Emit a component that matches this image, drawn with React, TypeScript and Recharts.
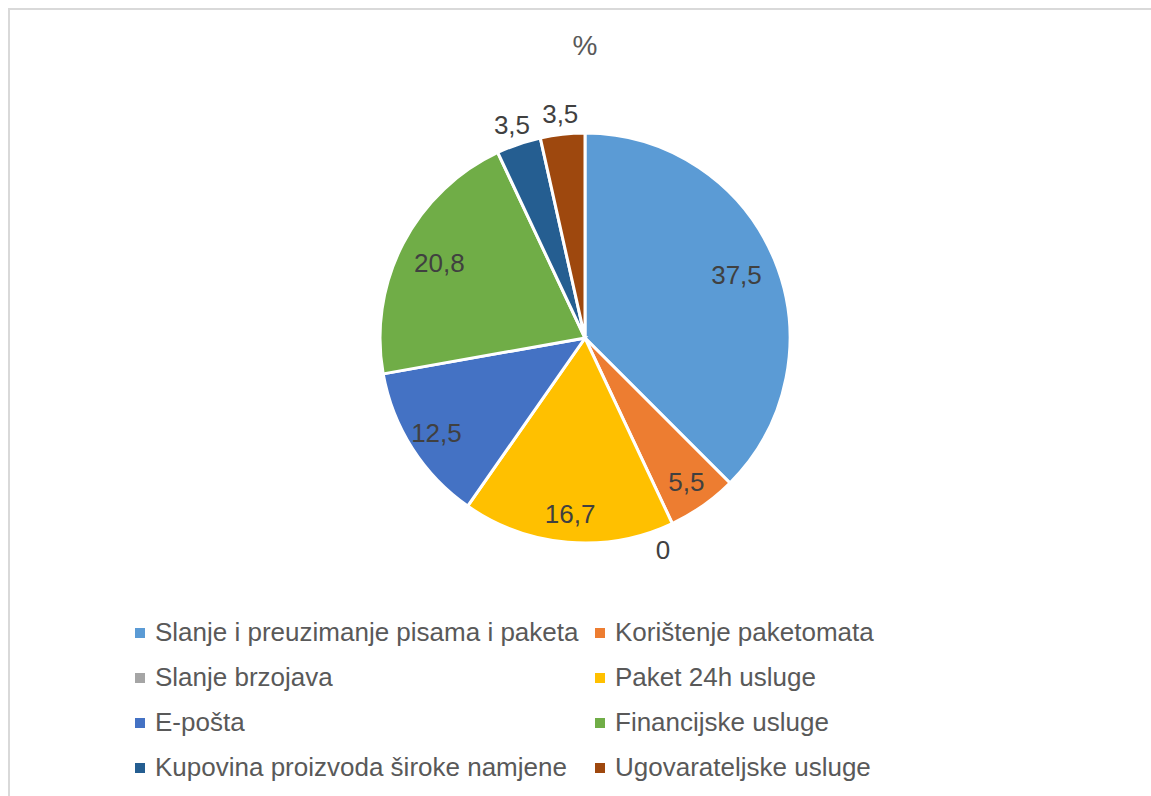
import React from 'react';
import { Legend, Pie, PieChart, Cell } from 'recharts';

const CATEGORIES = [
  'Slanje i preuzimanje pisama i paketa',
  'Korištenje paketomata',
  'Slanje brzojava',
  'Paket 24h usluge',
  'E-pošta',
  'Financijske usluge',
  'Kupovina proizvoda široke namjene',
  'Ugovarateljske usluge',
];

const VALUES = [37.5, 5.5, 0, 16.7, 12.5, 20.8, 3.5, 3.5];

const COLORS = [
  '#5B9BD5',
  '#ED7D31',
  '#A5A5A5',
  '#FFC000',
  '#4472C4',
  '#70AD47',
  '#255E91',
  '#9E480E',
];

const FONT = '"Liberation Sans", Arial, sans-serif';
const RADIAN = Math.PI / 180;

const fmt = (v: number) => String(v).replace('.', ',');

function renderLabel(props: any) {
  const { cx, cy, midAngle, outerRadius, value } = props;
  // excel "best fit": small slices outside, the rest inside
  let k = 0.8;
  if (value < 5) k = 1.1;
  else if (value < 20) k = 0.86;
  let angle = midAngle;
  if (value === 0) angle = midAngle - 5; // empty slice label sits a little further round
  const r = outerRadius * k;
  const x = cx + r * Math.cos(-angle * RADIAN);
  const y = cy + r * Math.sin(-angle * RADIAN);
  return (
    <text
      x={x}
      y={y}
      fill="#404040"
      fontSize={26}
      fontFamily={FONT}
      textAnchor="middle"
      dominantBaseline="central"
    >
      {fmt(value)}
    </text>
  );
}

function LegendGrid() {
  return (
    <div
      style={{
        display: 'grid',
        gridTemplateColumns: '460px 460px',
        fontFamily: FONT,
        fontSize: 26,
        color: '#595959',
      }}
    >
      {CATEGORIES.map((name, i) => (
        <div key={name} style={{ display: 'flex', alignItems: 'center', height: 45 }}>
          <span
            style={{
              width: 10,
              height: 10,
              background: COLORS[i],
              marginRight: 10,
              display: 'inline-block',
            }}
          />
          <span style={{ whiteSpace: 'nowrap' }}>{name}</span>
        </div>
      ))}
    </div>
  );
}

export default function App() {
  const rows = CATEGORIES.map((name, i) => ({ name, value: VALUES[i] }));

  return (
    <div
      style={{
        position: 'absolute',
        left: 8,
        top: 8,
        width: 1143,
        height: 788,
        boxSizing: 'border-box',
        borderTop: '2px solid #d9d9d9',
        borderLeft: '2px solid #d9d9d9',
        overflow: 'hidden',
      }}
    >
      <div
        style={{
          position: 'absolute',
          left: 0,
          top: 20,
          width: 1150,
          textAlign: 'center',
          fontFamily: FONT,
          fontSize: 28,
          color: '#595959',
        }}
      >
        %
      </div>
      <PieChart width={1141} height={786}>
        <Pie
          data={rows}
          dataKey="value"
          nameKey="name"
          cx={570}
          cy={323}
          outerRadius={205}
          startAngle={90}
          endAngle={-270}
          stroke="#fff"
          strokeWidth={3}
          label={renderLabel}
          labelLine={false}
          isAnimationActive={false}
        >
          {rows.map((r, i) => (
            <Cell key={r.name} fill={COLORS[i]} />
          ))}
        </Pie>
        <Legend
          content={() => <LegendGrid />}
          wrapperStyle={{ left: 125, top: 600, width: 940 }}
        />
      </PieChart>
    </div>
  );
}
